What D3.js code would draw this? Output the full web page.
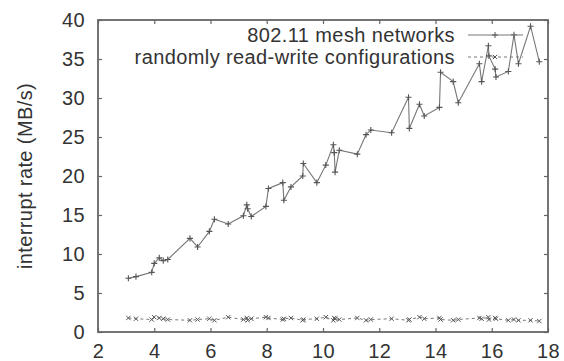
<!DOCTYPE html>
<html>
<head>
<meta charset="utf-8">
<script src="https://cdn.jsdelivr.net/npm/d3@7"></script>
<style>
  body { margin: 0; background: #fff; }
  text { font-family: "Liberation Sans", Arial, sans-serif; fill: #333; letter-spacing: 0.4px; }
</style>
</head>
<body>
<div id="chart"></div>
<script>
// shared x values (same sample points for both series)
var xValues = [3.08, 3.35, 3.91, 4.0, 4.18, 4.32, 4.48, 5.27, 5.54, 5.96, 6.14, 6.63, 7.17, 7.29, 7.32, 7.45,
  7.97, 8.06, 8.57, 8.61, 8.86, 9.28, 9.3, 9.78, 10.1, 10.37, 10.4, 10.43, 10.58, 11.22, 11.53, 11.7,
  12.44, 13.04, 13.07, 13.43, 13.6, 14.14, 14.18, 14.63, 14.81, 15.56, 15.64, 15.88, 15.9, 16.12, 16.15,
  16.59, 16.79, 16.95, 17.38, 17.69];

var meshValues = [6.9, 7.1, 7.65, 8.8, 9.5, 9.15, 9.3, 12.0, 10.9, 12.9, 14.45, 13.85, 14.9, 16.3, 15.8, 14.8,
  16.1, 18.4, 19.15, 16.9, 18.6, 20.0, 21.6, 19.15, 21.4, 24.0, 23.0, 20.5, 23.3, 22.8, 25.3, 25.9,
  25.55, 30.1, 26.1, 29.2, 27.7, 28.8, 33.3, 32.1, 29.4, 34.4, 32.1, 36.7, 35.4, 33.7, 32.7,
  33.4, 38.1, 34.4, 39.2, 34.65];

var rwValues = [1.8, 1.7, 1.6, 1.9, 1.8, 1.7, 1.6, 1.5, 1.6, 1.7, 1.5, 1.9, 1.6, 1.8, 1.5, 1.7,
  1.9, 1.8, 1.6, 1.7, 1.8, 1.5, 1.6, 1.7, 1.9, 1.5, 1.8, 1.7, 1.6, 1.8, 1.5, 1.6,
  1.7, 1.5, 1.6, 1.9, 1.7, 1.8, 1.6, 1.5, 1.6, 1.8, 1.7, 1.9, 1.6, 1.8, 1.7,
  1.5, 1.6, 1.5, 1.5, 1.4];

var seriesNames = ["802.11 mesh networks", "randomly read-write configurations"];
var xTicks = [2, 4, 6, 8, 10, 12, 14, 16, 18];
var yTicks = [0, 5, 10, 15, 20, 25, 30, 35, 40];

var svgWidth = 564;
var svgHeight = 361;
var margin = { top: 20, right: 16, bottom: 29, left: 98 };
var width = svgWidth - margin.left - margin.right;
var height = svgHeight - margin.top - margin.bottom;

var svg = d3.select("#chart")
  .append("svg")
  .attr("width", svgWidth)
  .attr("height", svgHeight);

var chartGroup = svg.append("g")
  .attr("transform", `translate(${margin.left}, ${margin.top})`);

var xScale = d3.scaleLinear().domain([2, 18]).range([0, width]);
var yScale = d3.scaleLinear().domain([0, 40]).range([height, 0]);

var axisColor = "#666";
var fontSize = 20;

// axes: inward ticks, mirrored on top and right
function styleAxis(g) {
  g.select(".domain").remove();
  g.selectAll(".tick line").attr("stroke", axisColor).attr("stroke-width", 1.2);
  g.selectAll(".tick text").attr("font-size", fontSize).attr("fill", "#333");
}

chartGroup.append("g")
  .attr("transform", `translate(0, ${height})`)
  .call(d3.axisBottom(xScale).tickValues(xTicks).tickSize(-4).tickPadding(12))
  .call(styleAxis);

chartGroup.append("g")
  .call(d3.axisTop(xScale).tickValues(xTicks).tickSize(-4).tickFormat(""))
  .call(styleAxis);

chartGroup.append("g")
  .call(d3.axisLeft(yScale).tickValues(yTicks).tickSize(-4).tickPadding(13))
  .call(styleAxis);

chartGroup.append("g")
  .attr("transform", `translate(${width}, 0)`)
  .call(d3.axisRight(yScale).tickValues(yTicks).tickSize(-4).tickFormat(""))
  .call(styleAxis);

chartGroup.append("rect")
  .attr("width", width)
  .attr("height", height)
  .attr("fill", "none")
  .attr("stroke", axisColor)
  .attr("stroke-width", 1.8);

// build point lists
var meshData = xValues.map(function (x, i) { return { x: x, y: meshValues[i] }; });
var rwData = xValues.map(function (x, i) { return { x: x, y: rwValues[i] }; });

var line = d3.line()
  .x(d => xScale(d.x))
  .y(d => yScale(d.y));

var lineColor = "#777";

chartGroup.append("path")
  .datum(meshData)
  .attr("d", line)
  .attr("fill", "none")
  .attr("stroke", lineColor)
  .attr("stroke-width", 1.1);

chartGroup.append("path")
  .datum(rwData)
  .attr("d", line)
  .attr("fill", "none")
  .attr("stroke", lineColor)
  .attr("stroke-width", 1)
  .attr("stroke-dasharray", "3,3");

var plusSymbol = d3.symbol().type(d3.symbolPlus).size(14);
var timesSymbol = d3.symbol().type(d3.symbolTimes).size(14);

chartGroup.selectAll(".meshPoint")
  .data(meshData)
  .enter()
  .append("path")
  .attr("class", "meshPoint")
  .attr("d", plusSymbol)
  .attr("transform", d => `translate(${xScale(d.x)}, ${yScale(d.y)})`)
  .attr("fill", "none")
  .attr("stroke", "#555")
  .attr("stroke-width", 1.1);

chartGroup.selectAll(".rwPoint")
  .data(rwData)
  .enter()
  .append("path")
  .attr("class", "rwPoint")
  .attr("d", timesSymbol)
  .attr("transform", d => `translate(${xScale(d.x)}, ${yScale(d.y)})`)
  .attr("fill", "none")
  .attr("stroke", "#555")
  .attr("stroke-width", 1);

// legend, top right inside the frame
var legend = svg.append("g");
var legendRows = [
  { name: seriesNames[0], symbol: plusSymbol, dash: null, y: 35 },
  { name: seriesNames[1], symbol: timesSymbol, dash: "3,3", y: 57 }
];

legendRows.forEach(function (row) {
  legend.append("text")
    .attr("x", 455)
    .attr("y", row.y)
    .attr("dy", "0.35em")
    .attr("text-anchor", "end")
    .attr("font-size", fontSize)
    .text(row.name);

  legend.append("line")
    .attr("x1", 468)
    .attr("x2", 523)
    .attr("y1", row.y)
    .attr("y2", row.y)
    .attr("stroke", lineColor)
    .attr("stroke-width", 1)
    .attr("stroke-dasharray", row.dash);

  legend.append("path")
    .attr("d", row.symbol)
    .attr("transform", `translate(495, ${row.y})`)
    .attr("fill", "none")
    .attr("stroke", "#555");
});

// y axis label
svg.append("text")
  .attr("transform", `translate(32, ${margin.top + height / 2}) rotate(-90)`)
  .attr("text-anchor", "middle")
  .attr("font-size", fontSize)
  .text("interrupt rate (MB/s)");
</script>
</body>
</html>
